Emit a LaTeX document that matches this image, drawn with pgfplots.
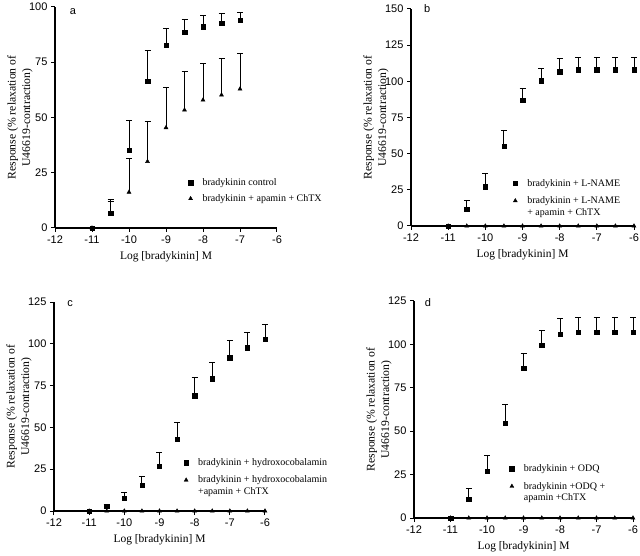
\documentclass[border=0pt]{standalone}
\usepackage{pgfplots}
\pgfplotsset{compat=1.18}
\usepackage{fontspec}
\setmainfont{Liberation Serif}
\setsansfont{Liberation Sans}

\pgfplotstableread{
x y e
-11 0 0
-10.5 6.8 6.3
-10 35.3 13.3
-9.5 66.3 14.2
-9 82.6 7.8
-8.5 88.7 5.6
-8 91.1 5.0
-7.5 92.6 4.4
-7 94.0 3.7
}\aCtrl
\pgfplotstableread{
x y e
-11 0 0
-10.5 6.3 5.8
-10 16.2 15.4
-9.5 30.1 18.0
-9 45.4 18.2
-8.5 53.4 17.3
-8 57.9 16.5
-7.5 60.2 16.6
-7 62.9 16.3
}\aTrt
\pgfplotstableread{
x y e
-11 0 0
-10.5 11.5 6.0
-10 27.2 9.2
-9.5 55.3 10.6
-9 87.1 8.3
-8.5 100.5 8.7
-8 106.7 9.4
-7.5 108.0 8.6
-7 108.0 8.6
-6.5 108.0 8.6
-6 108.0 8.6
}\bCtrl
\pgfplotstableread{
x y e
-11 0 0
-10.5 3.0 1.0
-10 7.6 3.7
-9.5 15.5 5.0
-9 26.9 8.3
-8.5 42.8 10.3
-8 68.9 10.9
-7.5 79.2 9.6
-7 91.6 10.5
-6.5 97.7 9.2
-6 102.9 8.4
}\cCtrl
\pgfplotstableread{
x y e
-11 0 0
-10.5 10.9 6.4
-10 26.8 9.1
-9.5 54.6 10.6
-9 86.3 8.4
-8.5 99.7 8.4
-8 106.0 9.0
-7.5 107.0 8.6
-7 107.0 8.6
-6.5 107.0 8.6
-6 107.0 8.6
}\dCtrl
\pgfplotstableread{
x y
-11 0
-10.5 0
-10 0
-9.5 0
-9 0
-8.5 0
-8 0
-7.5 0
-7 0
-6.5 0
-6 0
}\zeroTrt

\pgfplotsset{
  panel/.style={
    scale only axis,
    clip=false,
    axis lines=left,
    axis line style={-, line width=1.1pt},
    xmin=-12, xmax=-6, ymin=0,
    xtick={-12,-11,-10,-9,-8,-7,-6},
    tick align=outside,
    major tick length=4pt,
    every tick/.style={line width=1pt, black},
    ticklabel style={font=\sffamily\fontsize{11}{12}\selectfont},
    /pgf/number format/assume math mode=true,
    xlabel={Log [bradykinin] M},
    xlabel style={font=\fontsize{11.5}{13}\selectfont, at={([yshift=-29pt]axis description cs:0.5,0)}, anchor=center},
    ylabel={Response (\% relaxation of\\U46619-contraction)},
    ylabel style={align=center, font=\fontsize{11.7}{14.5}\selectfont, at={([xshift=-35pt]axis description cs:0,0.5)}, anchor=center},
    legend style={draw=none, fill=none, anchor=north west, font=\fontsize{10}{11.5}\selectfont, row sep=5pt, inner sep=0pt, cells={align=left}},
    legend cell align=left,
    legend image code/.code={\path[draw=none,fill=none] (-2pt,-2pt) rectangle (10pt,2pt); \draw[##1] plot coordinates {(0pt,0pt)};},
  },
  upmark/.style={legend image code/.code={\path[draw=none,fill=none] (-2pt,-2pt) rectangle (10pt,2pt); \draw[##1] plot coordinates {(0pt,5.75pt)};}},
  sq/.style={black, only marks, mark=square*, mark size=2.2pt,
    error bars/.cd, y dir=plus, y explicit, error mark=|,
    error mark options={mark size=3pt, line width=0.9pt},
    error bar style={line width=0.9pt}},
  tri/.style={black, only marks, mark=triangle*, mark size=2.3pt},
  trie/.style={black, only marks, mark=triangle*, mark size=2.3pt,
    error bars/.cd, y dir=plus, y explicit, error mark=|,
    error mark options={mark size=3pt, line width=0.9pt},
    error bar style={line width=0.9pt}},
}

\begin{document}
\begin{tikzpicture}
\path[use as bounding box] (0,0) rectangle (640pt,555pt);

% panel a
\begin{axis}[panel, at={(55pt,327pt)}, anchor=south west, width=222pt, height=221pt,
  ymax=100, ytick={0,25,50,75,100},
  legend style={at={(axis description cs:0.6,0.234)}, row sep=3.5pt}]
\addplot[sq] table[x=x,y=y,y error=e] {\aCtrl};
\addplot[trie] table[x=x,y=y,y error=e] {\aTrt};
\legend{bradykinin control, bradykinin + apamin + ChTX}
\node[font=\sffamily\fontsize{11}{13}\selectfont] at (axis description cs:0.081,0.977) {a};
\end{axis}

% panel b
\begin{axis}[panel, at={(411pt,329pt)}, anchor=south west, width=223pt, height=217pt,
  ymax=150, ytick={0,25,50,75,100,125,150},
  legend style={at={(axis description cs:0.457,0.226)}}]
\addplot[sq] table[x=x,y=y,y error=e] {\bCtrl};
\addplot[tri, upmark] table[x=x,y=y] {\zeroTrt};
\legend{bradykinin + L-NAME, {bradykinin + L-NAME\\+ apamin + ChTX}}
\node[font=\sffamily\fontsize{11}{13}\selectfont] at (axis description cs:0.072,1.0) {b};
\end{axis}

% panel c
\begin{axis}[panel, at={(54pt,44pt)}, anchor=south west, width=211pt, height=209pt,
  ymax=125, ytick={0,25,50,75,100,125},
  legend style={at={(axis description cs:0.615,0.262)}}]
\addplot[sq] table[x=x,y=y,y error=e] {\cCtrl};
\addplot[tri, upmark] table[x=x,y=y] {\zeroTrt};
\legend{bradykinin + hydroxocobalamin, {bradykinin + hydroxocobalamin\\+apamin + ChTX}}
\node[font=\sffamily\fontsize{11}{13}\selectfont] at (axis description cs:0.076,0.99) {c};
\end{axis}

% panel d
\begin{axis}[panel, at={(414pt,37pt)}, anchor=south west, width=219pt, height=217pt,
  ymax=125, ytick={0,25,50,75,100,125},
  legend style={at={(axis description cs:0.436,0.256)}}]
\addplot[sq] table[x=x,y=y,y error=e] {\dCtrl};
\addplot[tri, upmark] table[x=x,y=y] {\zeroTrt};
\legend{bradykinin + ODQ, {bradykinin +ODQ +\\apamin +ChTX}}
\node[font=\sffamily\fontsize{11}{13}\selectfont] at (axis description cs:0.064,0.995) {d};
\end{axis}
\end{tikzpicture}
\end{document}
